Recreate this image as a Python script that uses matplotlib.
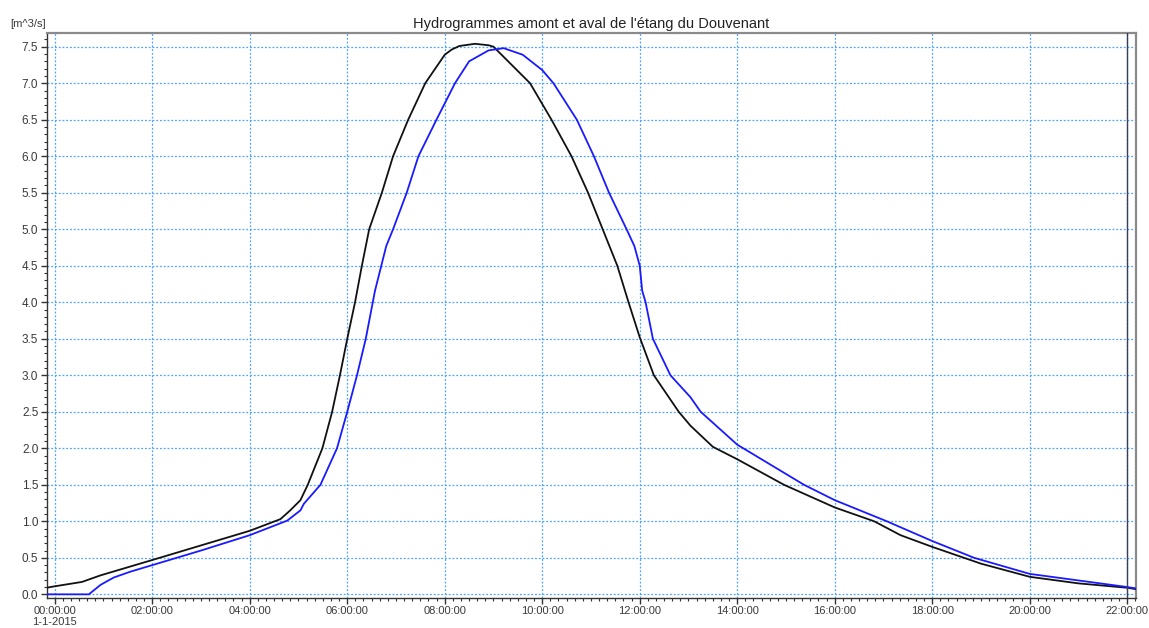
import numpy as np
import matplotlib
matplotlib.use('Agg')
import matplotlib.pyplot as plt
from matplotlib.ticker import MultipleLocator, FixedLocator

plt.rcParams['font.family'] = ['Liberation Sans', 'DejaVu Sans']

# time in hours from 1-1-2015 00:00:00, discharge in m3/s
amont_t = [-0.17, 0.0, 0.56, 0.94, 2.0, 3.0, 4.0, 4.63, 4.83, 5.04, 5.19, 5.49, 5.69,
           5.85, 6.0, 6.16, 6.3, 6.45, 6.71, 6.94, 7.25, 7.6, 8.0, 8.14, 8.3,
           8.62, 8.9, 9.0, 9.75, 10.19, 10.6, 10.94, 11.24, 11.54, 11.77, 12.0, 12.29,
           12.8, 13.04, 13.5, 14.0, 14.96, 16.0, 16.81, 17.35, 18.0, 19.0, 20.0,
           21.0, 22.0, 22.19]
amont_q = [0.09, 0.11, 0.17, 0.26, 0.47, 0.67, 0.87, 1.03, 1.15, 1.29, 1.5, 2.0, 2.5,
           3.0, 3.5, 4.0, 4.5, 5.0, 5.5, 6.0, 6.5, 7.0, 7.39, 7.46, 7.51,
           7.54, 7.52, 7.5, 7.0, 6.5, 6.0, 5.5, 5.0, 4.5, 4.0, 3.52, 3.0,
           2.5, 2.31, 2.02, 1.85, 1.5, 1.19, 1.0, 0.81, 0.65, 0.42, 0.24,
           0.15, 0.09, 0.07]

aval_t = [-0.17, 0.7, 0.94, 1.21, 1.55, 2.0, 3.0, 4.0, 4.77, 5.04, 5.11, 5.45, 5.79,
          6.0, 6.2, 6.38, 6.57, 6.8, 6.94, 7.22, 7.46, 7.83, 8.21, 8.5, 8.9,
          9.21, 9.6, 10.0, 10.23, 10.71, 11.06, 11.37, 11.73, 11.89, 12.0, 12.05,
          12.12, 12.27, 12.63, 13.04, 13.25, 14.0, 15.37, 16.0, 17.07, 18.0, 18.86,
          20.0, 22.0, 22.19]
aval_q = [0.0, 0.0, 0.13, 0.23, 0.31, 0.4, 0.6, 0.81, 1.01, 1.15, 1.24, 1.5, 2.0,
          2.5, 3.0, 3.5, 4.16, 4.77, 5.0, 5.5, 6.0, 6.5, 7.0, 7.3, 7.45,
          7.48, 7.39, 7.18, 7.0, 6.5, 6.0, 5.5, 5.0, 4.77, 4.5, 4.16,
          4.0, 3.5, 3.0, 2.7, 2.5, 2.05, 1.5, 1.29, 1.0, 0.73, 0.5,
          0.28, 0.1, 0.08]

hour_ticks = list(range(0, 23, 2))
hour_labels = ['%02d:00:00' % h for h in hour_ticks]
hour_labels[0] = '00:00:00\n1-1-2015'

title = "Hydrogrammes amont et aval de l'étang du Douvenant"
unit = '[m^3/s]'


def plot_hydrographs():
    fig = plt.figure(figsize=(11.49, 6.28), dpi=100)
    ax = fig.add_axes([0.0406, 0.0478, 0.9481, 0.8992])

    ax.plot(amont_t, amont_q, color='#111111', lw=1.3, zorder=3)
    ax.plot(aval_t, aval_q, color='#1a1aff', lw=1.3, zorder=3)
    ax.axvline(22.0, color='#3a3f55', lw=1.0, zorder=4)

    ax.set_xlim(-0.166, 22.18)
    ax.set_ylim(-0.05, 7.684)

    ax.xaxis.set_major_locator(FixedLocator(hour_ticks))
    ax.set_xticklabels(hour_labels, linespacing=1.1)
    ax.xaxis.set_minor_locator(MultipleLocator(1 / 6))
    ax.yaxis.set_major_locator(MultipleLocator(0.5))
    ax.yaxis.set_minor_locator(MultipleLocator(0.1))
    ax.yaxis.set_major_formatter(plt.FormatStrFormatter('%.1f'))

    ax.grid(True, which='major', color='#4da3ff', lw=0.9, linestyle=(0, (1.5, 1.5)))
    ax.tick_params(which='major', length=4, width=1, color='#333333',
                   labelsize=8.5, labelcolor='#3a3a3a', pad=2)
    ax.tick_params(axis='x', which='major', labelsize=8, pad=2)
    ax.tick_params(which='minor', length=2.5, width=0.8, color='#333333')

    for side in ['left', 'bottom']:
        ax.spines[side].set_color('#333333')
        ax.spines[side].set_linewidth(1.0)
    for side in ['top', 'right']:
        ax.spines[side].set_color('#8a8a8a')
        ax.spines[side].set_linewidth(1.6)

    ax.set_title(title, fontsize=10.5, color='#222222', pad=4)
    fig.text(0.0087, 0.962, unit, fontsize=8, color='#3a3a3a', ha='left', va='center')

    fig.savefig('out.png', dpi=100)


if __name__ == '__main__':
    plot_hydrographs()
